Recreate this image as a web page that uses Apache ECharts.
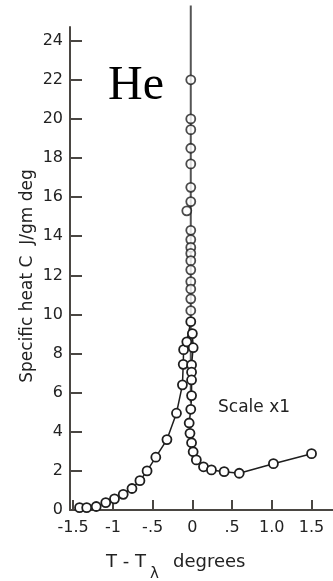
<!DOCTYPE html>
<html>
<head>
<meta charset="utf-8">
<script src="https://cdn.jsdelivr.net/npm/echarts@6/dist/echarts.min.js"></script>
<style>
  html, body { margin: 0; padding: 0; background: #fff; }
  #chart { width: 333px; height: 581px; }
</style>
</head>
<body>
<div id="chart"></div>
<script>
// Specific heat of liquid helium near the lambda point (T - T_lambda in K)

// Below the transition (T < T_lambda)
const lowT = [-1.42, -1.33, -1.21, -1.09, -0.98, -0.87, -0.76, -0.66, -0.57, -0.46, -0.32, -0.20, -0.125, -0.115, -0.11, -0.07, -0.02];
const lowC = [0.12, 0.12, 0.18, 0.38, 0.57, 0.8, 1.1, 1.5, 2.0, 2.7, 3.6, 4.95, 6.4, 7.45, 8.2, 8.6, 9.63];

// Points crowding the lambda line
const peakT = [-0.02, -0.02, -0.02, -0.02, -0.02, -0.02, -0.02, -0.07, -0.02, -0.02, -0.02, -0.02, -0.02, -0.02, -0.02, -0.02, -0.02, -0.02];
const peakC = [22.0, 20.0, 19.45, 18.5, 17.7, 16.5, 15.77, 15.3, 14.3, 13.83, 13.43, 13.12, 12.75, 12.28, 11.68, 11.3, 10.8, 10.2];

// Above the transition (T > T_lambda)
const highT = [0.0, 0.01, -0.01, -0.01, -0.01, -0.01, -0.02, -0.04, -0.03, -0.01, 0.01, 0.05, 0.14, 0.24, 0.40, 0.59, 1.02, 1.50];
const highC = [9.02, 8.3, 7.42, 7.05, 6.65, 5.85, 5.15, 4.45, 3.92, 3.44, 2.98, 2.56, 2.21, 2.05, 1.96, 1.88, 2.37, 2.88];

// The lambda line itself
const lambdaT = [-0.02, -0.02];
const lambdaC = [25.8, 5.5];

// Axis ticks
const xTicks = [-1.5, -1, -0.5, 0, 0.5, 1, 1.5];
const xTickLabels = ['-1.5', '-1', '-.5', '0', '.5', '1.0', '1.5'];
const yTicks = [0, 2, 4, 6, 8, 10, 12, 14, 16, 18, 20, 22, 24];

const pairs = (xs, ys) => xs.map((x, i) => [x, ys[i]]);

const FONT = 'DejaVu Sans';
const AXIS = '#4a4642';
const INK = '#1e1e1e';
const TEXT = '#222';
const circle = { color: '#fff', borderColor: INK, borderWidth: 1.8 };

const chart = echarts.init(document.getElementById('chart'), null, { renderer: 'canvas' });

chart.setOption({
  animation: false,
  backgroundColor: '#fff',
  grid: { left: 70, right: 0, top: 27, bottom: 71 },
  xAxis: {
    type: 'value',
    min: -1.54,
    max: 1.77,
    axisLine: { onZero: false, lineStyle: { color: AXIS, width: 2 } },
    axisTick: { inside: true, length: 10, customValues: xTicks, lineStyle: { color: AXIS, width: 2 } },
    axisLabel: {
      customValues: xTicks,
      margin: 10,
      fontFamily: FONT, fontSize: 16, color: TEXT,
      formatter: v => xTickLabels[xTicks.indexOf(v)] ?? ''
    },
    splitLine: { show: false }
  },
  yAxis: {
    type: 'value',
    min: 0,
    max: 24.7,
    axisLine: { onZero: false, lineStyle: { color: AXIS, width: 2 } },
    axisTick: { inside: true, length: 12, customValues: yTicks, lineStyle: { color: AXIS, width: 2 } },
    axisLabel: { customValues: yTicks, margin: 7, fontFamily: FONT, fontSize: 16, color: TEXT },
    splitLine: { show: false }
  },
  series: [
    {
      type: 'line', data: pairs(lambdaT, lambdaC), clip: false, showSymbol: false,
      lineStyle: { color: '#555', width: 2 }, silent: true, z: 1
    },
    {
      type: 'line', data: pairs(lowT, lowC), symbol: 'circle', symbolSize: 9, clip: false,
      lineStyle: { color: INK, width: 1.5 }, itemStyle: circle, silent: true, z: 2
    },
    {
      type: 'line', data: pairs(highT, highC), symbol: 'circle', symbolSize: 9, clip: false,
      lineStyle: { color: INK, width: 1.5 }, itemStyle: circle, silent: true, z: 2
    },
    {
      type: 'scatter', data: pairs(peakT, peakC), symbol: 'circle', symbolSize: 9,
      itemStyle: circle, silent: true, z: 3
    }
  ],
  graphic: [
    { type: 'text', x: 108, y: 86, style: { text: 'He', font: '48px "Liberation Serif"', fill: '#000', verticalAlign: 'middle' } },
    { type: 'text', x: 218, y: 408, style: { text: 'Scale x1', font: '17px "DejaVu Sans"', fill: TEXT, verticalAlign: 'middle' } },
    { type: 'text', x: 106, y: 562, style: { text: 'T - T', font: '18px "DejaVu Sans"', fill: TEXT, verticalAlign: 'middle' } },
    { type: 'text', x: 150, y: 574, style: { text: 'λ', font: '15px "DejaVu Sans"', fill: TEXT, verticalAlign: 'middle' } },
    { type: 'text', x: 173, y: 562, style: { text: 'degrees', font: '18px "DejaVu Sans"', fill: TEXT, verticalAlign: 'middle' } },
    { type: 'text', x: 28, y: 276, rotation: Math.PI / 2,
      style: { text: 'Specific heat C  J/gm deg', font: '17px "DejaVu Sans"', fill: TEXT, align: 'center', verticalAlign: 'middle' } }
  ]
});
</script>
</body>
</html>
